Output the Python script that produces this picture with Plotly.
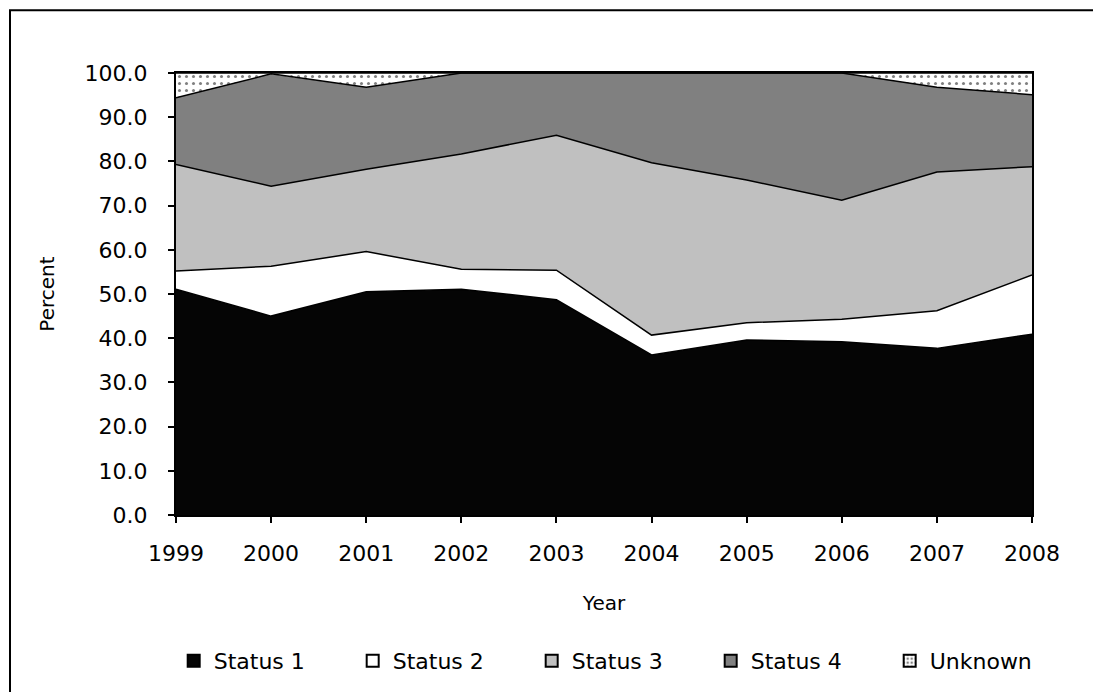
import plotly.graph_objects as go

years = [1999, 2000, 2001, 2002, 2003, 2004, 2005, 2006, 2007, 2008]
status1 = [51.1, 45.0, 50.5, 51.1, 48.7, 36.2, 39.6, 39.2, 37.7, 40.9]
status2 = [4.1, 11.3, 9.1, 4.5, 6.7, 4.5, 3.9, 5.1, 8.5, 13.4]
status3 = [24.1, 18.1, 18.6, 26.1, 30.5, 39.0, 32.3, 26.9, 31.4, 24.5]
status4 = [15.1, 25.4, 18.6, 18.3, 14.1, 20.3, 24.2, 28.8, 19.2, 16.3]
unknown = [5.6, 0.2, 3.2, 0.0, 0.0, 0.0, 0.0, 0.0, 3.2, 4.9]

names = ["Status 1", "Status 2", "Status 3", "Status 4", "Unknown"]
series = [status1, status2, status3, status4, unknown]
fills = ["#050505", "#FFFFFF", "#C0C0C0", "#808080", "#FFFFFF"]

fig = go.Figure()
for name, vals, col in zip(names, series, fills):
    kw = {}
    if name == "Unknown":
        kw["fillpattern"] = dict(shape=".", fgcolor="black", bgcolor="white", size=7, solidity=0.15)
    fig.add_trace(go.Scatter(
        x=years, y=vals, name=name, stackgroup="one", mode="lines",
        line=dict(color="black", width=1.5), fillcolor=col, showlegend=False, **kw))

# legend entries (square icons)
for name, col in zip(names, fills):
    mk = dict(color=col, line=dict(color="black", width=1.2))
    if name == "Unknown":
        mk["pattern"] = dict(shape=".", fgcolor="black", bgcolor="white", size=5, solidity=0.3)
    fig.add_trace(go.Bar(x=[None], y=[None], name=name, marker=mk, showlegend=True))

L, T, PW, PH = 168, 65, 856, 443
W, H = 1093, 684
fig.update_layout(
    width=W, height=H,
    margin=dict(l=L, r=W - L - PW, t=T, b=H - T - PH),
    paper_bgcolor="white", plot_bgcolor="white",
    font=dict(family="DejaVu Sans", color="black"),
    showlegend=True,
    legend=dict(orientation="h", x=-0.0027, xanchor="left", y=-0.327, yanchor="middle",
                font=dict(size=22, family="DejaVu Sans"), entrywidth=134, entrywidthmode="pixels",
                traceorder="normal", itemsizing="constant"),
    xaxis=dict(range=[1999, 2008], tickvals=years, ticktext=[str(y) for y in years],
               showgrid=False, zeroline=False, showline=True, linecolor="black", linewidth=2,
               mirror=True, ticks="outside", ticklen=6, tickwidth=2, tickcolor="black",
               tickfont=dict(size=22), ticklabelstandoff=12,
               title=dict(text="Year", font=dict(size=20), standoff=31)),
    yaxis=dict(range=[0, 100], dtick=10, tickformat=".1f",
               showgrid=False, zeroline=False, showline=True, linecolor="black", linewidth=2,
               mirror=True, ticks="outside", ticklen=6, tickwidth=2, tickcolor="black",
               tickfont=dict(size=22), ticklabelstandoff=16,
               title=dict(text="Percent", font=dict(size=20), standoff=25)),
    shapes=[dict(type="rect", xref="paper", yref="paper",
                 x0=(2 - L) / PW, x1=(W + 20 - L) / PW,
                 y0=-(H + 20 - T - PH) / PH, y1=(T + PH - 2) / PH,
                 line=dict(color="black", width=2), fillcolor="rgba(0,0,0,0)", layer="below")],
)

fig.write_html("out.html")
